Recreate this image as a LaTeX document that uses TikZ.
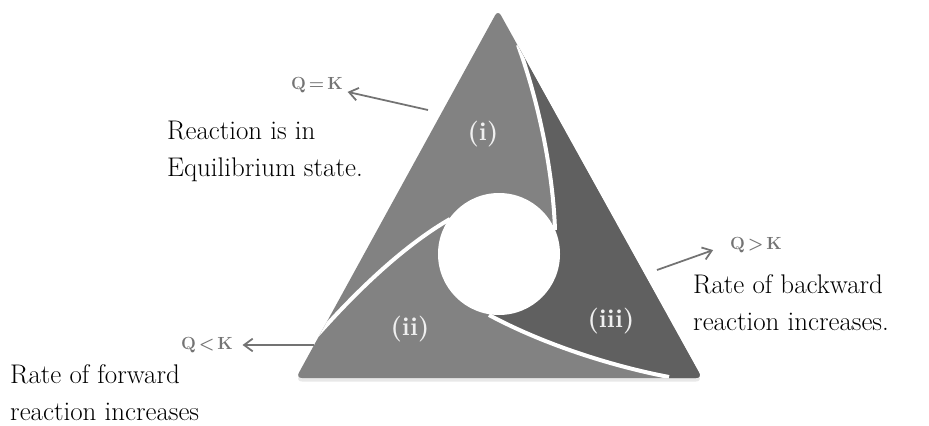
\documentclass[tikz,border=0pt]{standalone}
\usepackage{tikz}
\usetikzlibrary{arrows.meta,shadows}
\definecolor{wedgegray}{RGB}{130,130,130}
\definecolor{wedgedark}{RGB}{96,96,96}
\definecolor{labelgray}{RGB}{115,115,115}

\begin{document}
\begin{tikzpicture}[
    x=0.03cm, y=-0.03cm,
    desc/.style={anchor=north west,inner sep=0pt,align=left,
                 font=\fontsize{23}{31.5}\selectfont},
    qlabel/.style={inner sep=2pt,text=labelgray,font=\fontsize{15}{17}\selectfont\bfseries},
    part/.style={inner sep=0pt,text=white!94!black,font=\fontsize{22}{26}\selectfont\bfseries},
    gap/.style={draw=white,line width=3.4pt},
    arrow/.style={-{Straight Barb[length=2.6mm,width=3.8mm]},line width=1.5pt,draw=labelgray}
  ]
    \useasboundingbox (0,0) rectangle (929,426);
    % triangle and the dark part (iii)
    \fill[wedgegray,rounded corners=5pt,
          drop shadow={opacity=0.18,shadow xshift=0pt,shadow yshift=-3pt}]
          (498,10) -- (702,378) -- (296,378) -- cycle;
    \begin{scope}
      \clip[rounded corners=5pt] (498,10) -- (702,378) -- (296,378) -- cycle;
      \fill[wedgedark] (518,45) .. controls (538,100) and (553,170) .. (555,230)
            -- (499,254) -- (489,315) .. controls (543,344) and (611,366) .. (669,377)
            -- (669,400) -- (740,400) -- (740,20) -- (520,20) -- cycle;
      \draw[gap] (518,45) .. controls (538,100) and (553,170) .. (555,230);
      \draw[gap] (489,315) .. controls (543,344) and (611,366) .. (669,377);
      \draw[gap] (314,339) .. controls (352,296) and (400,248) .. (450,219);
    \end{scope}
    \fill[white] (499,254) circle (61);
    \node[part] (pone) at (483,134) {(i)};
    \node[part] (ptwo) at (410,329) {(ii)};
    \node[part] (pthree) at (611,321) {(iii)};
    % labels
    \node[qlabel] (qeq) at (317,85) {Q\,=\,K};
    \node[qlabel] (qlt) at (207,345) {Q\,<\,K};
    \node[qlabel] (qgt) at (756,245) {Q\,>\,K};
    \node[desc] (eqtext) at (167,121) {Reaction is in\\Equilibrium state.};
    \node[desc] (fwdtext) at (10,364) {Rate of forward\\reaction increases};
    \node[desc] (bwdtext) at (693,274) {Rate of backward\\reaction increases.};
    \coordinate (eqfoot) at (428,110);
    \coordinate (ltfoot) at (314,345);
    \coordinate (gtfoot) at (657,270);
    \draw[arrow,shorten >=2pt] (eqfoot) -- (qeq);
    \draw[arrow,shorten >=6pt] (ltfoot) -- (qlt);
    \draw[arrow,shorten >=13pt] (gtfoot) -- (qgt.west);
  \end{tikzpicture}
\end{document}
